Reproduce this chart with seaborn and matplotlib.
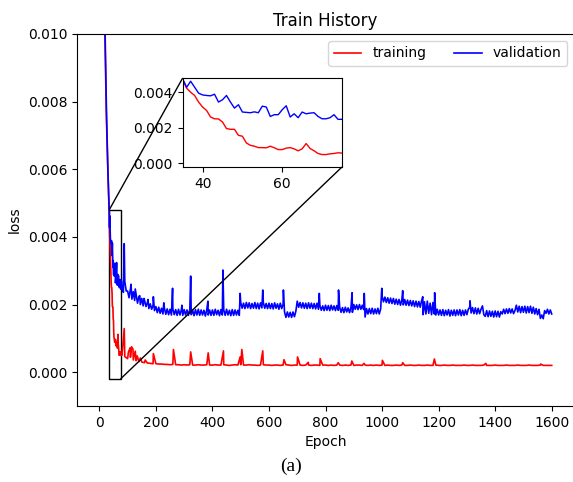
import numpy as np
import pandas as pd
import matplotlib
matplotlib.use("Agg")
import matplotlib.pyplot as plt
import seaborn as sns
from mpl_toolkits.axes_grid1.inset_locator import mark_inset

# all losses below are in units of 1e-4

# first epochs (mostly above the top of the axes)
early_epochs = [1, 5, 10, 15, 20, 25, 30, 33, 34]
train_early = [700, 400, 250, 150, 98, 75, 60, 52, 49]
val_early = [900, 500, 300, 170, 102, 78, 60, 52, 50]

# epochs 35..79, one value per epoch (the zoomed region)
zoom_epochs = list(range(35, 80))
train_zoom = [47.0, 42.3, 40.0, 38.2, 34.5, 31.7, 29.8, 26.1, 25.1, 25.0,
              23.3, 19.6, 19.2, 19.2, 15.8, 15.3, 11.5, 10.2, 9.7, 8.9,
              8.9, 8.8, 9.7, 8.8, 7.8, 7.8, 8.6, 8.9, 8.2, 7.1,
              8.2, 11.2, 8.4, 7.1, 5.6, 5.0, 5.0, 5.4, 5.6, 6.0,
              5.8, 5.5, 5.0, 6.0, 5.2]
val_zoom = [47.5, 42.8, 46.2, 42.8, 39.5,
            38.5, 38.2, 38.0, 38.9, 34.5, 35.8, 38.2, 34.5, 31.1, 33.0,
            28.9, 28.7, 28.5, 29.0, 28.5, 32.2, 31.7, 26.4, 27.4, 27.4,
            30.2, 32.4, 26.1, 27.9, 25.7, 28.9, 27.9, 28.3, 28.5, 26.4,
            25.1, 25.1, 25.7, 27.4, 24.8, 24.8, 26.0, 24.5, 27.0, 25.0]

# validation every 5 epochs, 80..1600
val_epochs = list(range(80, 1601, 5))
val_grid = [
    25.5, 23.6, 26.8, 24.0,
    24.0, 22.0, 24.6, 21.6, 23.8, 21.2, 23.0, 20.4, 22.4, 20.0, 21.8, 19.6, 21.2, 19.4, 20.6, 18.8, 20.2, 18.6, 19.8, 18.2,
    19.4, 17.6, 19.2, 17.4, 18.9, 17.2, 19.0, 17.1, 18.7, 17.0, 18.6, 16.9, 18.7, 17.0, 18.5, 16.8, 18.6, 16.9, 18.4, 16.8,
    18.5, 16.9, 18.4, 16.8, 18.6, 17.0, 18.3, 16.7, 18.5, 16.9, 18.6, 16.8, 18.4, 16.9, 18.3, 16.6, 18.5, 16.9, 18.4, 16.8,
    18.4, 16.8, 18.6, 17.0, 18.3, 16.7, 18.5, 16.9, 18.4, 16.8, 18.6, 16.9, 18.3, 16.7, 18.5, 16.8, 18.4, 16.9, 18.3, 16.8,
    20.6, 18.9, 20.4, 18.8, 20.6, 19.0, 20.5, 18.8, 20.3, 18.9, 20.6, 18.8, 20.4, 18.7, 20.5, 19.0, 20.6, 18.9, 20.3, 18.8,
    20.4, 18.8, 20.3, 18.7, 20.5, 18.9, 20.2, 18.6, 20.4, 18.8, 20.1, 17.8, 16.2, 17.8, 16.3, 17.7, 16.2, 17.8, 16.4, 18.0,
    21.0, 19.2, 20.6, 19.0, 20.5, 18.9, 20.4, 18.8, 20.5, 18.9, 20.4, 18.8, 20.3, 18.7, 20.4, 18.6, 19.7, 18.3, 19.6, 18.2,
    19.8, 18.3, 19.7, 18.2, 19.8, 18.4, 19.6, 18.2, 19.7, 18.3, 19.2, 17.7, 19.1, 17.6, 19.2, 17.8, 19.0, 17.6, 19.1, 17.7,
    20.0, 18.6, 19.9, 18.5, 20.0, 18.6, 19.8, 18.5, 16.3, 18.8, 17.2, 18.8, 17.3, 18.9, 17.2, 18.7, 17.3, 18.9, 17.2, 18.7,
    22.5, 20.8, 22.2, 20.6, 22.0, 20.4, 21.9, 20.3, 21.8, 20.1, 21.6, 20.0, 21.5, 19.8, 21.4, 19.9, 21.5, 19.8, 21.3, 19.7,
    21.2, 19.6, 21.1, 19.4, 21.0, 19.3, 20.9, 19.2, 21.2, 17.0, 20.8, 17.2, 21.0, 17.4, 20.4, 17.0, 20.6, 17.2, 16.9, 18.6,
    16.9, 18.4, 16.8, 18.5, 16.7, 18.3, 16.9, 18.5, 16.6, 18.3, 16.8, 18.4, 16.7, 18.4, 16.9, 18.5, 16.7, 18.3, 16.8, 18.4,
    17.0, 18.6, 19.2, 17.5, 19.1, 17.3, 19.0, 17.2, 18.9, 17.3, 18.6, 19.6, 17.0, 16.5, 18.2, 16.4, 18.1, 16.5, 18.0, 16.3,
    18.1, 16.4, 18.0, 16.3, 17.9, 17.2, 18.6, 17.3, 18.7, 17.4, 18.8, 17.5, 18.7, 17.3, 18.2, 19.8, 17.8, 19.5, 17.6, 19.4,
    17.7, 19.5, 17.5, 19.4, 17.6, 19.5, 17.4, 19.2, 17.2, 18.8, 17.0, 18.6, 15.9, 16.9, 15.8, 18.2, 17.4, 18.6, 17.2, 18.4,
    17.2,
]
val_spike_epochs = [88, 112, 127, 143, 158, 172, 191, 228, 259, 292, 323, 384, 437, 498,
                    578, 651, 778, 846, 894, 937, 999, 1073, 1144, 1186, 1311]
val_spikes = [38.0, 26.0, 24.6, 22.6, 21.8, 21.5, 22.3, 20.5, 24.8, 19.8, 28.4, 21.0, 30.2, 23.3,
              24.3, 24.3, 23.3, 24.3, 23.5, 23.3, 24.8, 24.1, 22.3, 23.5, 21.1]

# training every 10 epochs, 80..1600
train_epochs = list(range(80, 1601, 10))
train_grid = [
    5.0, 4.6,
    4.0, 4.4, 3.6, 3.4, 3.1, 3.0, 2.8, 2.7, 2.6, 2.5,
    2.5, 2.4, 2.4, 2.3, 2.3, 2.2, 2.3, 2.2, 2.2, 2.1,
    2.2, 2.1, 2.2, 2.1, 2.1, 2.2, 2.1, 2.1, 2.2, 2.1,
    2.1, 2.2, 2.1, 2.1, 2.2, 2.1, 2.0, 2.1, 2.2, 2.1,
    2.2, 2.1, 2.1, 2.2, 2.1, 2.1, 2.0, 2.1, 2.2, 2.1,
    2.1, 2.0, 2.1, 2.1, 2.0, 2.1, 2.2, 2.1, 2.0, 2.1,
    2.1, 2.1, 2.0, 2.1, 2.1, 2.0, 2.1, 2.1, 2.0, 2.1,
    2.1, 2.0, 2.1, 2.0, 2.1, 2.1, 2.0, 2.1, 2.0, 2.1,
    2.0, 2.1, 2.1, 2.0, 2.1, 2.0, 2.1, 2.0, 2.1, 2.0,
    2.1, 2.0, 2.1, 2.0, 2.0, 2.1, 2.0, 2.1, 2.0, 2.0,
    2.1, 2.0, 2.0, 2.1, 2.0, 2.0, 2.1, 2.0, 2.0, 2.1,
    2.0, 2.0, 2.1, 2.0, 2.0, 2.1, 2.0, 2.0, 2.0, 2.1,
    2.0, 2.0, 2.1, 2.0, 2.0, 2.0, 2.1, 2.0, 2.0, 2.0,
    2.1, 2.0, 2.0, 2.0, 2.1, 2.0, 2.0, 2.0, 2.1, 2.0,
    2.0, 2.0, 2.1, 2.0, 2.0, 2.0, 2.1, 2.0, 2.0, 2.0,
    2.0,
]
train_spike_epochs = [88, 103, 109, 114, 119, 127, 134, 145, 162, 191, 262, 323, 385, 439, 498, 504,
                      578, 653, 701, 739, 781, 845, 893, 936, 1001, 1073, 1185, 1367, 1561]
train_spikes = [12.9, 6.0, 7.2, 7.5, 6.8, 6.2, 4.8, 4.2, 3.6, 5.5, 6.7, 6.0, 5.7, 6.3, 4.5, 6.7,
                6.3, 3.7, 4.5, 2.9, 4.0, 2.8, 3.3, 2.6, 3.5, 2.8, 3.9, 2.6, 2.4]

assert len(val_grid) == len(val_epochs)
assert len(train_grid) == len(train_epochs)


def build(epochs_parts, value_parts):
    df = pd.DataFrame({
        "epoch": np.concatenate(epochs_parts),
        "loss": np.concatenate(value_parts) * 1e-4,
    })
    return df.sort_values("epoch")


train_df = build([early_epochs, zoom_epochs, train_epochs, train_spike_epochs],
                 [train_early, train_zoom, train_grid, train_spikes])
val_df = build([early_epochs, zoom_epochs, val_epochs, val_spike_epochs],
               [val_early, val_zoom, val_grid, val_spikes])

fig = plt.figure(figsize=(5.73, 4.82), dpi=100)
ax = fig.add_axes([0.1344, 0.1577, 0.8679, 0.7718])

sns.lineplot(data=train_df, x="epoch", y="loss", color="red", lw=1.2,
             estimator=None, label="training", ax=ax)
sns.lineplot(data=val_df, x="epoch", y="loss", color="blue", lw=1.2,
             estimator=None, label="validation", ax=ax)

ax.set_xlim(-79, 1680)
ax.set_ylim(-0.001, 0.010)
ax.set_xticks([0, 200, 400, 600, 800, 1000, 1200, 1400, 1600])
ax.set_title("Train History", fontsize=12)
ax.set_xlabel("Epoch")
ax.set_ylabel("loss")
ax.legend(loc="upper right", ncol=2, fontsize=10)

# zoomed inset
axins = fig.add_axes([0.3188, 0.6535, 0.278, 0.1846])
sns.lineplot(data=train_df, x="epoch", y="loss", color="red", lw=1.0,
             estimator=None, legend=False, ax=axins)
sns.lineplot(data=val_df, x="epoch", y="loss", color="blue", lw=1.0,
             estimator=None, legend=False, ax=axins)
axins.set_xlim(35, 75)
axins.set_ylim(-0.0002, 0.0048)
axins.set_xticks([40, 60])
axins.set_yticks([0.0, 0.002, 0.004])
axins.set_xlabel("")
axins.set_ylabel("")

mark_inset(ax, axins, loc1=2, loc2=4, fc="none", ec="k", lw=1.0)

fig.text(0.508, 0.022, "(a)", ha="center", va="baseline",
         fontsize=14, family=["Liberation Serif", "DejaVu Serif"])

fig.savefig("out.png", dpi=100)
